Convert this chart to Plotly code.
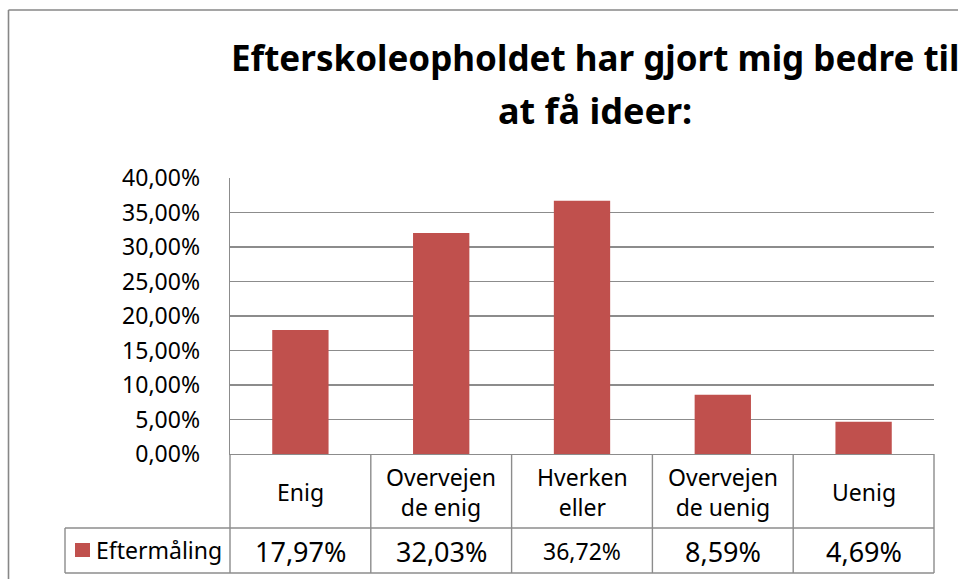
import plotly.graph_objects as go

categories = ["Enig", "Overvejen de enig", "Hverken eller", "Overvejen de uenig", "Uenig"]
category_labels = ["Enig", "Overvejen<br>de enig", "Hverken<br>eller", "Overvejen<br>de uenig", "Uenig"]
series_name = "Eftermåling"
values = [0.1797, 0.3203, 0.3672, 0.0859, 0.0469]
value_font_sizes = [27, 27, 23, 27, 27]
tick_values = [0, 0.05, 0.10, 0.15, 0.20, 0.25, 0.30, 0.35, 0.40]
title_lines = ["Efterskoleopholdet har gjort mig bedre til", "at få ideer:"]

W, H = 958, 579
# plot area in pixels
L, R, T, B = 230, 934, 178, 454
FONT = "Noto Sans"
GRID = "#8C8C8C"
BAR = "#C0504D"


def px(xs):
    return (xs - L) / (R - L)


def py(ys):
    return (B - ys) / (B - T)


fig = go.Figure()
fig.add_trace(go.Bar(x=categories, y=values, name=series_name,
                     marker=dict(color=BAR, line=dict(width=0)),
                     hoverinfo="skip"))

shapes = []
# chart-area border: only its top and left edges fall inside the picture
shapes.append(dict(type="line", xref="paper", yref="paper",
                   x0=px(8.5), x1=px(1000), y0=py(10), y1=py(10),
                   line=dict(color="#878787", width=1.6), layer="below"))
shapes.append(dict(type="line", xref="paper", yref="paper",
                   x0=px(8.5), x1=px(8.5), y0=py(10), y1=py(700),
                   line=dict(color="#878787", width=1.6), layer="below"))
n = len(categories)
for i in range(n + 1):
    shapes.append(dict(type="line", xref="paper", yref="paper",
                       x0=i / n, x1=i / n, y0=py(454), y1=py(573),
                       line=dict(color=GRID, width=1.4)))
for yv in (528, 573):
    shapes.append(dict(type="line", xref="paper", yref="paper",
                       x0=px(65), x1=1, y0=py(yv), y1=py(yv),
                       line=dict(color=GRID, width=1.4)))
shapes.append(dict(type="line", xref="paper", yref="paper",
                   x0=px(65), x1=px(65), y0=py(528), y1=py(573),
                   line=dict(color=GRID, width=1.4)))
shapes.append(dict(type="rect", xref="paper", yref="paper",
                   x0=px(75), x1=px(90), y0=py(557), y1=py(543),
                   fillcolor=BAR, line=dict(width=0)))

annotations = []
annotations.append(dict(text="<b>" + title_lines[0] + "</b>", xref="paper", yref="paper",
                        x=px(595), y=py(57), xanchor="center", yanchor="middle",
                        showarrow=False, font=dict(family=FONT, size=35, color="black")))
annotations.append(dict(text="<b>" + title_lines[1] + "</b>", xref="paper", yref="paper",
                        x=px(595), y=py(110), xanchor="center", yanchor="middle",
                        showarrow=False, font=dict(family=FONT, size=36, color="black")))
for c, lab in zip(categories, category_labels):
    annotations.append(dict(text=lab, xref="x", yref="paper", x=c, y=py(492),
                            xanchor="center", yanchor="middle", showarrow=False,
                            font=dict(family=FONT, size=23, color="black")))
for c, v, fs in zip(categories, values, value_font_sizes):
    annotations.append(dict(text=f"{v*100:.2f}%".replace(".", ","), xref="x", yref="paper",
                            x=c, y=py(551), xanchor="center", yanchor="middle",
                            showarrow=False, font=dict(family=FONT, size=fs, color="black")))
annotations.append(dict(text=series_name, xref="paper", yref="paper", x=px(94), y=py(550),
                        xanchor="left", yanchor="middle", showarrow=False,
                        font=dict(family=FONT, size=23, color="black")))

fig.update_layout(
    width=W, height=H,
    margin=dict(l=L, r=W - R, t=T, b=H - B),
    paper_bgcolor="white", plot_bgcolor="white",
    separators=",.",
    showlegend=False,
    bargap=0.6,
    shapes=shapes,
    annotations=annotations,
    font=dict(family=FONT, color="black"),
    xaxis=dict(showticklabels=False, showgrid=False, showline=True, linecolor=GRID,
               linewidth=1.4, ticks="", range=[-0.5, n - 0.5], fixedrange=True),
    yaxis=dict(range=[0, 0.4], tickvals=tick_values, tickformat=".2%",
               showgrid=True, gridcolor=GRID, gridwidth=1.4, showline=True,
               linecolor=GRID, linewidth=1.4, ticks="", ticklabelstandoff=24,
               tickfont=dict(family=FONT, size=23, color="black"), zeroline=False,
               fixedrange=True),
)

fig.write_html("out.html",
               config={"displayModeBar": False, "staticPlot": True},
               post_script="document.body.style.margin='0';document.body.style.overflow='hidden';")
